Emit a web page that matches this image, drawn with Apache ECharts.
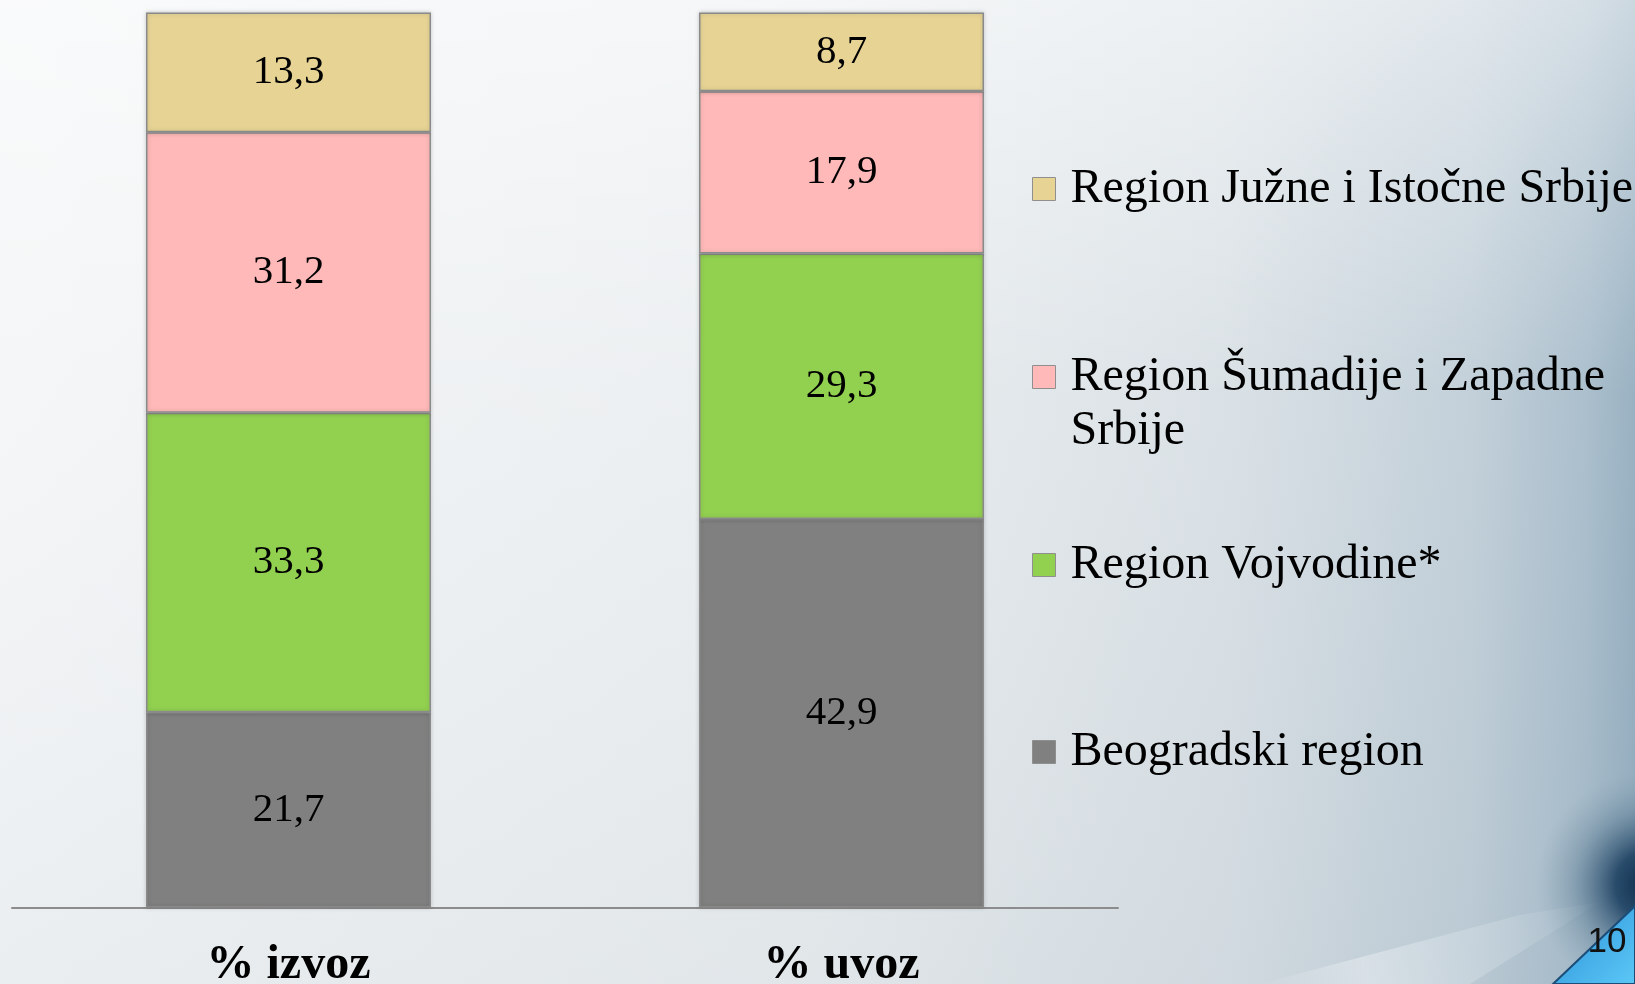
<!DOCTYPE html>
<html>
<head>
<meta charset="utf-8">
<script src="https://cdn.jsdelivr.net/npm/echarts@6/dist/echarts.min.js"></script>
<style>
html,body{margin:0;padding:0;overflow:hidden;background:#eef1f3;}
#chart{width:1635px;height:984px;}
</style>
</head>
<body>
<div id="chart"></div>
<script>
// ---- data ----
const categories = ['% izvoz', '% uvoz'];
const seriesNames = [
  'Beogradski region',
  'Region Vojvodine*',
  'Region Šumadije i Zapadne Srbije',
  'Region Južne i Istočne Srbije'
];
const beogradski = [21.7, 42.9];
const vojvodina = [33.3, 29.3];
const sumadija = [31.2, 17.9];
const juznaIstocna = [13.3, 8.7];
const pageNumber = '10';

const colors = ['#808080', '#92D050', '#FFB9B9', '#E7D495'];
const valuesList = [beogradski, vojvodina, sumadija, juznaIstocna];
const totals = categories.map((c, i) => valuesList.reduce((s, arr) => s + arr[i], 0));

const serif = "'Liberation Serif', 'Times New Roman', serif";

const series = valuesList.map((vals, si) => ({
  name: seriesNames[si],
  type: 'bar',
  stack: 'total',
  barWidth: 285,
  data: vals.map((v, i) => ({ value: v / totals[i] * 100, raw: v })),
  itemStyle: {
    color: colors[si],
    borderColor: '#8a8a8a',
    borderWidth: 1.5,
    shadowColor: 'rgba(0,0,0,0.18)',
    shadowBlur: 4
  },
  label: {
    show: true,
    position: 'inside',
    color: '#000',
    fontFamily: serif,
    fontSize: 41,
    formatter: p => String(p.data.raw).replace('.', ',')
  },
  emphasis: { disabled: true }
}));

function mkLegend(name, top, twoLine) {
  const icon = twoLine ? 'path://M0,0L23,0L23,23L0,23Z M0,77L0.01,77' : 'rect';
  return {
    left: 1032,
    top: top,
    padding: 0,
    orient: 'vertical',
    selectedMode: false,
    itemWidth: 23,
    itemHeight: twoLine ? 77 : 23,
    itemStyle: { borderColor: '#8f8f8f', borderWidth: 1, shadowBlur: 0 },
    data: [{ name: name, icon: icon }],
    formatter: n => n === 'Region Šumadije i Zapadne Srbije' ? 'Region Šumadije i Zapadne\nSrbije' : n,
    textStyle: {
      color: '#000',
      fontFamily: serif,
      fontSize: 48,
      lineHeight: 54,
      padding: [0, 0, 0, 10]
    }
  };
}

const chart = echarts.init(document.getElementById('chart'), null, { renderer: 'canvas' });

chart.setOption({
  animation: false,
  graphic: [
    {
      type: 'rect', z: -10, silent: true,
      shape: { x: 0, y: 0, width: 1635, height: 984 },
      style: {
        fill: new echarts.graphic.LinearGradient(0, 0, 1, 0, [
          { offset: 0, color: '#f3f5f6' },
          { offset: 0.5, color: '#e8ecee' },
          { offset: 0.75, color: '#d6dee3' },
          { offset: 0.9, color: '#bccbd5' },
          { offset: 0.97, color: '#a2b8c7' },
          { offset: 1, color: '#8ea9bb' }
        ])
      }
    },
    {
      type: 'rect', z: -9, silent: true,
      shape: { x: 0, y: 0, width: 1635, height: 984 },
      style: {
        fill: new echarts.graphic.LinearGradient(0, 0, 0, 1, [
          { offset: 0, color: 'rgba(255,255,255,0.55)' },
          { offset: 0.4, color: 'rgba(255,255,255,0.1)' },
          { offset: 1, color: 'rgba(170,185,195,0.12)' }
        ])
      }
    },
    {
      type: 'circle', z: -8, silent: true,
      shape: { cx: 1650, cy: 885, r: 115 },
      style: {
        fill: new echarts.graphic.RadialGradient(0.5, 0.5, 0.5, [
          { offset: 0, color: 'rgba(10,40,70,1)' },
          { offset: 0.3, color: 'rgba(22,58,92,0.85)' },
          { offset: 0.65, color: 'rgba(70,105,132,0.35)' },
          { offset: 1, color: 'rgba(120,150,170,0)' }
        ])
      }
    },
    {
      type: 'polygon', z: -7, silent: true,
      shape: { points: [[1260, 984], [1520, 915], [1600, 902], [1470, 984]] },
      style: {
        fill: new echarts.graphic.LinearGradient(0, 1, 1, 0, [
          { offset: 0, color: 'rgba(255,255,255,0.0)' },
          { offset: 0.3, color: 'rgba(245,248,250,0.4)' },
          { offset: 0.75, color: 'rgba(220,230,236,0.25)' },
          { offset: 1, color: 'rgba(200,215,225,0)' }
        ])
      }
    },
    {
      type: 'polygon', z: -6, silent: true,
      shape: { points: [[1553, 984], [1635, 906], [1635, 984]] },
      style: {
        fill: new echarts.graphic.LinearGradient(0, 0, 1, 1, [
          { offset: 0, color: '#2a90d8' },
          { offset: 1, color: '#5cc8f6' }
        ]),
        stroke: '#1c4d78',
        lineWidth: 2
      }
    },
    {
      type: 'text', z: 100, silent: true,
      x: 1607, y: 942,
      style: {
        text: pageNumber,
        fill: '#111',
        font: "35px 'Liberation Sans', Arial, sans-serif",
        align: 'center',
        verticalAlign: 'middle'
      }
    }
  ],
  grid: { left: 12, right: 517, top: 12.5, bottom: 76.5, containLabel: false, outerBoundsMode: 'none' },
  xAxis: {
    type: 'category',
    data: categories,
    axisLine: { lineStyle: { color: '#8c8c8c', width: 2 } },
    axisTick: { show: false },
    axisLabel: {
      color: '#000',
      fontFamily: serif,
      fontWeight: 'bold',
      fontSize: 48,
      lineHeight: 48,
      margin: 34
    }
  },
  yAxis: {
    type: 'value', min: 0, max: 100, show: false,
    splitLine: { show: false }
  },
  legend: [
    mkLegend('Region Južne i Istočne Srbije', 162, false),
    mkLegend('Region Šumadije i Zapadne Srbije', 350, true),
    mkLegend('Region Vojvodine*', 538, false),
    mkLegend('Beogradski region', 725, false)
  ],
  series: series
});
</script>
</body>
</html>
